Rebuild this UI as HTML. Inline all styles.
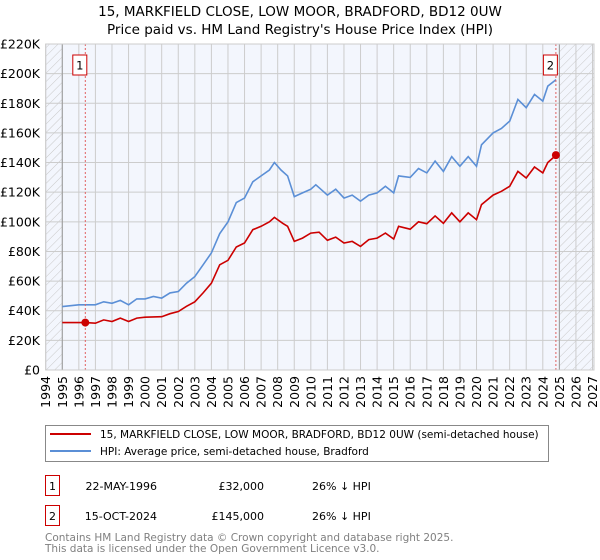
<!DOCTYPE html>
<html><head><meta charset="utf-8"><style>
body{margin:0;background:#fff;width:600px;height:560px;overflow:hidden;font-family:"DejaVu Sans","Liberation Sans",sans-serif;}
svg{position:absolute;left:0;top:0}
</style></head><body>
<svg width="600" height="560" font-family="DejaVu Sans, Liberation Sans, sans-serif">
<defs><pattern id="hatch" width="6" height="6" patternUnits="userSpaceOnUse" patternTransform="rotate(45)"><line x1="0" y1="0" x2="0" y2="6" stroke="#c8c8c8" stroke-width="1"/></pattern></defs>
<g font-size="13.5" text-anchor="middle" fill="#000">
<text x="300" y="16">15, MARKFIELD CLOSE, LOW MOOR, BRADFORD, BD12 0UW</text>
<text x="300" y="34">Price paid vs. HM Land Registry's House Price Index (HPI)</text>
</g>
<g id="plot"></g>
<g id="legend">
<rect x="45.5" y="425.5" width="503" height="36" fill="#fff" stroke="#888"/>
<line x1="50" y1="434" x2="91" y2="434" stroke="#cc0000" stroke-width="2"/>
<text x="100" y="438" font-size="10.5">15, MARKFIELD CLOSE, LOW MOOR, BRADFORD, BD12 0UW (semi-detached house)</text>
<line x1="50" y1="451" x2="91" y2="451" stroke="#5b8fd6" stroke-width="2"/>
<text x="100" y="455" font-size="10.5">HPI: Average price, semi-detached house, Bradford</text>
</g>
<g font-size="11">
<rect x="45.5" y="475.5" width="14" height="20" fill="#fff" stroke="#cc0000"/><text x="52.5" y="490" text-anchor="middle">1</text>
<text x="157" y="490" text-anchor="end">22-MAY-1996</text><text x="264" y="490" text-anchor="end">£32,000</text><text x="312" y="490">26% ↓ HPI</text>
<rect x="45.5" y="505.5" width="14" height="20" fill="#fff" stroke="#cc0000"/><text x="52.5" y="520" text-anchor="middle">2</text>
<text x="157" y="520" text-anchor="end">15-OCT-2024</text><text x="264" y="520" text-anchor="end">£145,000</text><text x="312" y="520">26% ↓ HPI</text>
</g>
<g font-size="10.5" fill="#808080">
<text x="45" y="541">Contains HM Land Registry data © Crown copyright and database right 2025.</text>
<text x="45" y="552">This data is licensed under the Open Government Licence v3.0.</text>
</g>
</svg>
<script>
const hpiYears=[1995,1996,1997,1997.5,1998,1998.5,1999,1999.5,2000,2000.5,2001,2001.5,2002,2002.5,2003,2003.5,2004,2004.5,2005,2005.5,2006,2006.5,2007,2007.5,2007.8,2008.2,2008.6,2009,2009.5,2010,2010.3,2010.5,2011,2011.5,2012,2012.5,2013,2013.5,2014,2014.5,2015,2015.3,2016,2016.5,2017,2017.5,2018,2018.5,2019,2019.5,2020,2020.3,2021,2021.5,2022,2022.5,2023,2023.5,2024,2024.3,2024.8];
const hpiValues=[42.8,44,44,46,45,47,44,48,48,49.6,48.5,52,53,58.6,63,71,79,92,100,113,116,127,131,135,140,135,131,117,119.5,122,125,123,118,122,116,118,114,118,119.5,124,119.5,131,130,136,133,141,134,144,137.5,144,137.5,152,160,163,168,182.6,177,186,181.5,191.6,196];
const priceYears=[1995,1996.4,1997,1997.5,1998,1998.5,1999,1999.5,2000,2001,2001.5,2002,2002.5,2003,2003.5,2004,2004.5,2005,2005.5,2006,2006.5,2007,2007.5,2007.8,2008.3,2008.6,2009,2009.5,2010,2010.5,2011,2011.5,2012,2012.5,2013,2013.5,2014,2014.5,2015,2015.3,2016,2016.5,2017,2017.5,2018,2018.5,2019,2019.5,2020,2020.3,2021,2021.5,2022,2022.5,2023,2023.5,2024,2024.3,2024.8];
const priceValues=[32,32,31.6,33.8,32.7,35,32.7,35,35.6,36,38,39.5,43,46,52,58.6,71,74,83,85.7,94.7,97,100,103,99,97,86.8,89,92.4,93,87.5,89.7,85.7,86.8,83.4,88,89,92.4,88.4,97,95,100,98.7,104,99,106,100,106,101.4,111.6,118,120.6,124,134,129.6,137,133,140,145];
const saleYears=[1996.39,2024.79];
const saleValues=[32,145];
const saleLabels=["1","2"];
const yTicks=[0,20,40,60,80,100,120,140,160,180,200,220];
const yTickLabels=["£0","£20K","£40K","£60K","£80K","£100K","£120K","£140K","£160K","£180K","£200K","£220K"];
const xTicks=[];for(let y=1994;y<=2027;y++)xTicks.push(y);

const X0=45.7,X1=594,Y0=370,Y1=44;
const xs=y=>X0+(y-1994)*16.57;
const ys=v=>Y0-v*(Y0-Y1)/220;
const NS="http://www.w3.org/2000/svg";
const plot=document.getElementById('plot');
function mk(tag,attrs,parent){const e=document.createElementNS(NS,tag);for(const k in attrs)e.setAttribute(k,attrs[k]);(parent||plot).appendChild(e);return e;}
const bg=mk('rect',{x:X0,y:Y1,width:X1-X0,height:Y0-Y1,fill:'#f3f6fd'});


const h1=mk('rect',{x:X0,y:Y1,width:xs(1995)-X0,height:Y0-Y1,fill:'url(#hatch)'});


const h2=mk('rect',{x:xs(2025),y:Y1,width:X1-xs(2025),height:Y0-Y1,fill:'url(#hatch)'});


yTicks.forEach((t,i)=>{
 const l=mk('line',{x1:X0,x2:X1,y1:ys(t),y2:ys(t),stroke:'#cccccc'});
 
 
 const tx=mk('text',{x:40,y:ys(t)+4.5,'text-anchor':'end','font-size':'12.5'});
 tx.textContent=yTickLabels[i];
 
 
});
xTicks.forEach(t=>{
 const l=mk('line',{x1:xs(t),x2:xs(t),y1:Y1,y2:Y0,stroke:'#cccccc'});
 
 
 const tx=mk('text',{x:0,y:0,'font-size':'12.5','text-anchor':'end',transform:`translate(${xs(t)+4.5},${Y0+6}) rotate(-90)`});
 tx.textContent=t;
 
 
});
[1995,2025].forEach(t=>{const l=mk('line',{x1:xs(t),x2:xs(t),y1:Y1,y2:Y0,stroke:'#999'});
 
 });
const pts=(a,b)=>a.map((y,i)=>xs(y).toFixed(1)+','+ys(b[i]).toFixed(1)).join(' ');
const hl=mk('polyline',{points:pts(hpiYears,hpiValues),fill:'none',stroke:'#5b8fd6','stroke-width':1.6});


const pl=mk('polyline',{points:pts(priceYears,priceValues),fill:'none',stroke:'#cc0000','stroke-width':1.6});


saleYears.forEach((y,i)=>{
 const v=mk('line',{x1:xs(y),x2:xs(y),y1:Y1,y2:Y0,stroke:'#e06060','stroke-dasharray':'2,2'});
 
 
 const c=mk('circle',{cx:xs(y),cy:ys(saleValues[i]),r:4,fill:'#cc0000'});
 
 
 const r=mk('rect',{x:xs(y)-12.5,y:55,width:14,height:20,fill:'#fff',stroke:'#cc0000'});
 
 
 const tx=mk('text',{x:xs(y)-5.5,y:69.5,'text-anchor':'middle','font-size':'11.5'});
 tx.textContent=saleLabels[i];
 
 
});
const fr=mk('rect',{x:X0,y:Y1,width:X1-X0,height:Y0-Y1,fill:'none',stroke:'#cccccc'});


</script>
</body></html>
